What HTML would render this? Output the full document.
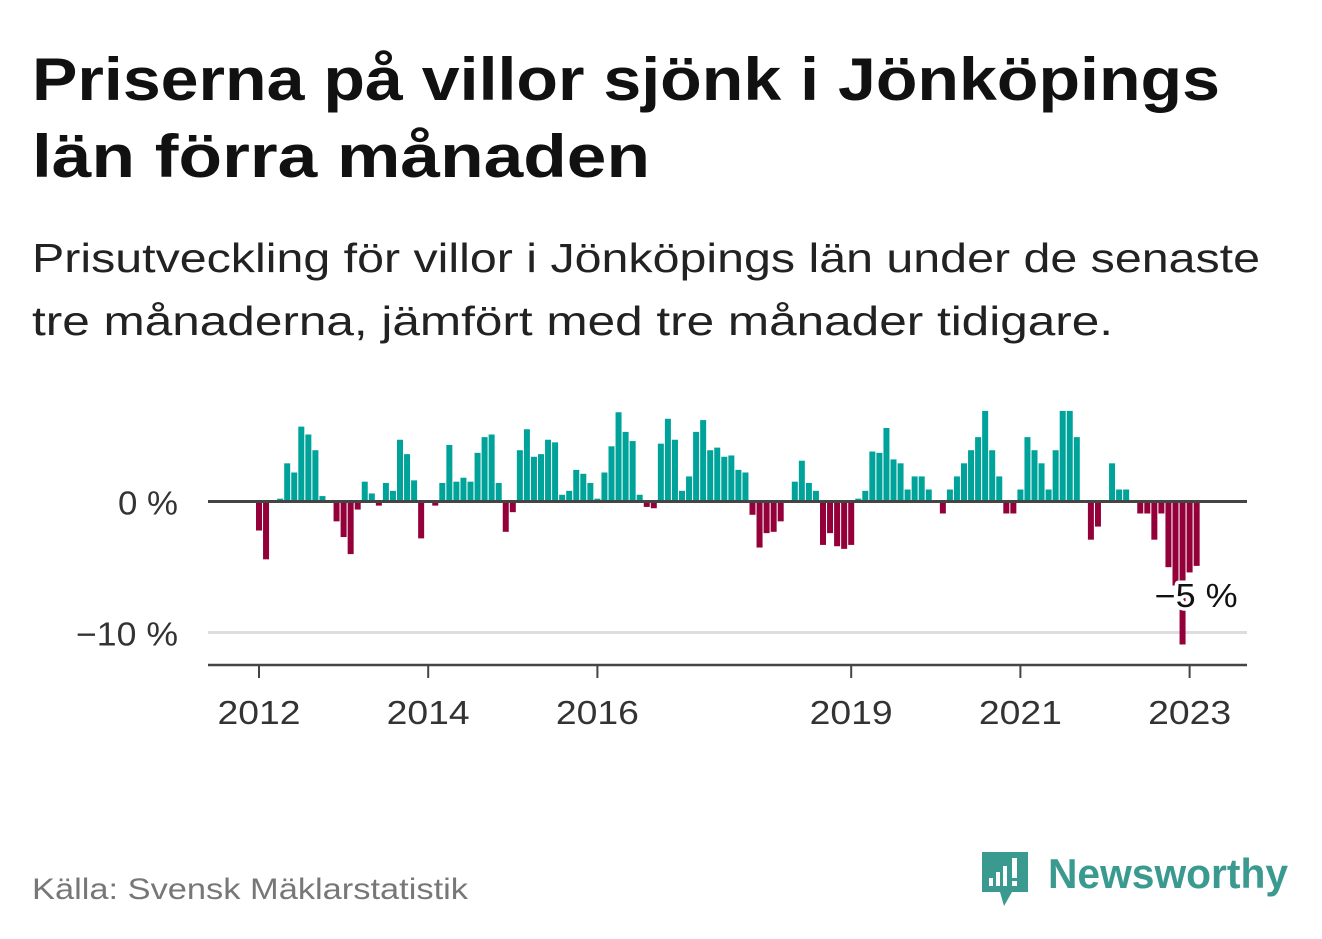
<!DOCTYPE html>
<html><head><meta charset="utf-8"><style>
body{margin:0;background:#fff;}
svg{display:block;font-family:"Liberation Sans","DejaVu Sans",sans-serif;}
</style></head><body>
<svg width="1322" height="939" viewBox="0 0 1322 939">
<text x="32" y="100" font-size="60" font-weight="bold" fill="#111" textLength="1188" lengthAdjust="spacingAndGlyphs">Priserna på villor sjönk i Jönköpings</text>
<text x="32" y="177" font-size="60" font-weight="bold" fill="#111" textLength="618" lengthAdjust="spacingAndGlyphs">län förra månaden</text>
<text x="32" y="272" font-size="41" fill="#222" textLength="1228" lengthAdjust="spacingAndGlyphs">Prisutveckling för villor i Jönköpings län under de senaste</text>
<text x="32" y="335" font-size="41" fill="#222" textLength="1081" lengthAdjust="spacingAndGlyphs">tre månaderna, jämfört med tre månader tidigare.</text>
<g id="plot"></g>
<text x="32" y="899" font-size="30" fill="#777" textLength="436" lengthAdjust="spacingAndGlyphs">Källa: Svensk Mäklarstatistik</text>
<g>
<path d="M982 852 h46 v40 h-16 l-8 14 l-4 -14 h-18 z" fill="#3a9a8f"/>
<rect x="989" y="878" width="4" height="8" fill="#fff"/><rect x="996" y="872" width="4" height="14" fill="#fff"/><rect x="1003" y="866" width="4" height="20" fill="#fff"/><rect x="1012" y="858" width="5" height="20" fill="#fff"/><rect x="1012" y="881" width="5" height="5" fill="#fff"/>
<text x="1048" y="888" font-size="42" font-weight="bold" fill="#3a9a8f" textLength="240" lengthAdjust="spacingAndGlyphs">Newsworthy</text>
</g>
</svg>
<script>
const values = [-2.1,-4.3,0,0.1,2.8,2.1,5.6,5.0,3.8,0.3,0,-1.4,
-2.6,-3.9,-0.5,1.4,0.5,-0.2,1.3,0.7,4.6,3.5,1.5,-2.7,
0,-0.2,1.3,4.2,1.4,1.7,1.4,3.6,4.8,5.0,1.3,-2.2,
-0.7,3.8,5.4,3.3,3.5,4.6,4.4,0.4,0.7,2.3,2.0,1.3,
0.1,2.1,4.1,6.7,5.2,4.5,0.4,-0.3,-0.4,4.3,6.2,4.6,
0.7,1.8,5.2,6.1,3.8,4.0,3.3,3.4,2.3,2.1,-0.9,-3.4,
-2.3,-2.2,-1.4,0,1.4,3.0,1.3,0.7,-3.2,-2.3,-3.3,-3.5,
-3.2,0.1,0.7,3.7,3.6,5.5,3.1,2.8,0.8,1.8,1.8,0.8,
0,-0.8,0.8,1.8,2.8,3.8,4.8,6.8,3.8,1.8,-0.8,-0.8,
0.8,4.8,3.8,2.8,0.8,3.8,6.8,6.8,4.8,0,-2.8,-1.8,
0,2.8,0.8,0.8,0,-0.8,-0.8,-2.8,-0.8,-4.9,-6.3,-10.8,
-5.3,-4.8];
const yTicks = [0,-10];
const yTickLabels = ["0 %","−10 %"];
const xTickMonths = [0,24,48,84,108,132];
const xTickLabels = ["2012","2014","2016","2019","2021","2023"];
const lastLabel = "−5 %";

const NS="http://www.w3.org/2000/svg";
const g=document.getElementById('plot');
const x=i=>259+i*7.05;
const y=v=>501.5-v*13.1;
function mk(t,a){const e=document.createElementNS(NS,t);for(const k in a)e.setAttribute(k,a[k]);g.appendChild(e);return e;}
yTicks.forEach((v,k)=>{
 const l=mk('line',{x1:208,x2:1247,y1:y(v),y2:y(v),stroke:v===0?'#444':'#ddd','stroke-width':3});
 
 
});
values.forEach((v,i)=>{
 if(v===0)return;
 const r=mk('rect',{x:x(i)-3,width:6,y:v>0?y(v)-1.5:y(0)+1.5,height:Math.abs(v)*13.1,fill:v>0?'#00a39a':'#93003a'});
 
 
});
const z=mk('line',{x1:208,x2:1247,y1:y(0),y2:y(0),stroke:'#444','stroke-width':3});


yTicks.forEach((v,k)=>{
 const t=mk('text',{x:178,y:y(v)+13,'text-anchor':'end','font-size':33,fill:'#333',textLength:yTickLabels[k].length>3?102:60,lengthAdjust:'spacingAndGlyphs'});
 t.textContent=yTickLabels[k];
 
 
});
const ax=mk('line',{x1:208,x2:1247,y1:665,y2:665,stroke:'#444','stroke-width':2.5});


xTickMonths.forEach((m,k)=>{
 const tk=mk('line',{x1:x(m),x2:x(m),y1:665,y2:678,stroke:'#444','stroke-width':2});
 
 
 const t=mk('text',{x:x(m),y:724,'text-anchor':'middle','font-size':33,fill:'#333',textLength:83,lengthAdjust:'spacingAndGlyphs'});
 t.textContent=xTickLabels[k];
 
 
});
const li=values.length-1;
const lb=mk('text',{x:x(li)+41,y:607,'text-anchor':'end','font-size':33,fill:'#111',stroke:'#fff','stroke-width':7,'paint-order':'stroke','stroke-linejoin':'round',textLength:83,lengthAdjust:'spacingAndGlyphs'});
lb.textContent=lastLabel;


</script>
</body></html>
